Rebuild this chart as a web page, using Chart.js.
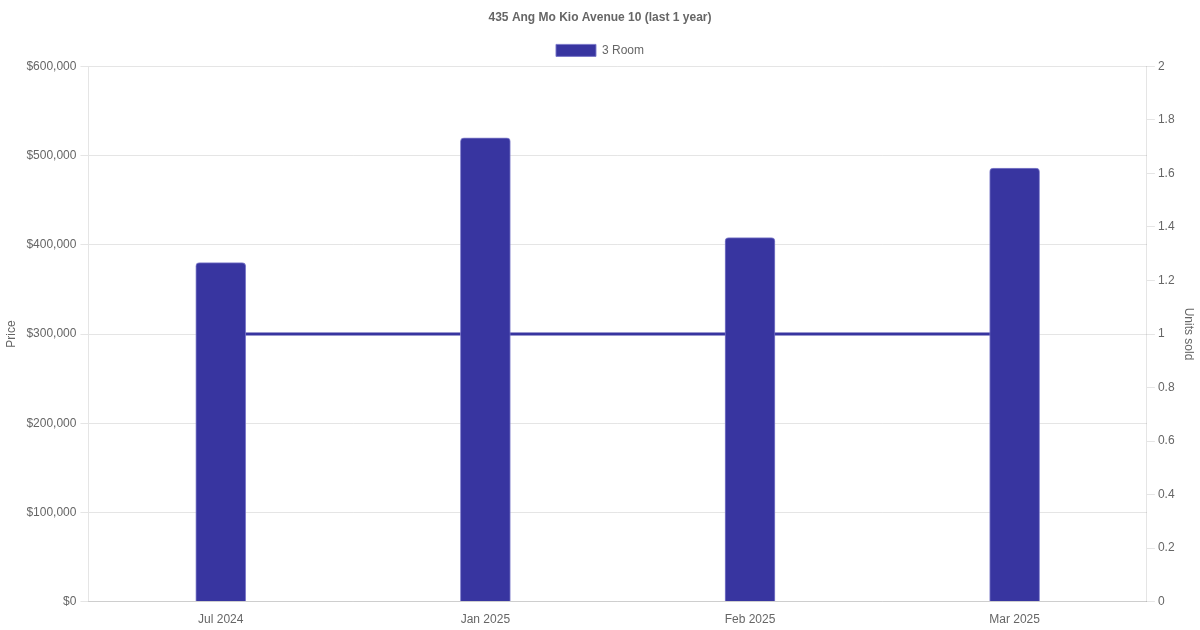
<!DOCTYPE html>
<html>
<head>
<meta charset="utf-8">
<script src="https://cdn.jsdelivr.net/npm/chart.js@4"></script>
<style>
  html, body { margin: 0; padding: 0; background: #fff; }
  #wrap { width: 1200px; height: 630px; }
</style>
</head>
<body>
<div id="wrap"><canvas id="chart"></canvas></div>
<script>
// Data
const months = ['Jul 2024', 'Jan 2025', 'Feb 2025', 'Mar 2025'];
const prices = [380000, 520000, 408000, 486000];
const unitsSold = [1, 1, 1, 1];

const barColor = '#3835a0';

Chart.defaults.font.family = '"Liberation Sans", Arial, Helvetica, sans-serif';
Chart.defaults.color = '#666';

const ctx = document.getElementById('chart').getContext('2d');
new Chart(ctx, {
    type: 'bar',
    data: {
        labels: months,
        datasets: [
            {
                label: '3 Room',
                data: prices,
                backgroundColor: barColor,
                borderColor: 'rgba(120, 118, 200, 0.9)',
                borderWidth: 1,
                borderRadius: 4,
                borderSkipped: 'bottom',
                barThickness: 50,
                yAxisID: 'y'
            },
            {
                type: 'line',
                label: 'Units sold',
                data: unitsSold,
                borderColor: barColor,
                backgroundColor: barColor,
                borderWidth: 3,
                pointRadius: 0,
                fill: false,
                yAxisID: 'y1'
            }
        ]
    },
    options: {
        responsive: true,
        maintainAspectRatio: false,
        animation: false,
        plugins: {
            title: {
                display: true,
                text: '435 Ang Mo Kio Avenue 10 (last 1 year)',
                font: { size: 12, weight: 'bold' },
                padding: { top: 10, bottom: 10 }
            },
            legend: {
                labels: {
                    filter: (item) => item.datasetIndex === 0
                }
            }
        },
        scales: {
            x: {
                grid: { display: false }
            },
            y: {
                position: 'left',
                min: 0,
                max: 600000,
                ticks: {
                    stepSize: 100000,
                    padding: 4,
                    callback: (value) => '$' + value.toLocaleString('en-US')
                },
                title: { display: true, text: 'Price' }
            },
            y1: {
                position: 'right',
                min: 0,
                max: 2,
                ticks: {
                    stepSize: 0.2,
                    callback: (value) => String(Number(value.toFixed(1)))
                },
                grid: { drawOnChartArea: false },
                title: { display: true, text: 'Units sold' }
            }
        }
    }
});
</script>
</body>
</html>
